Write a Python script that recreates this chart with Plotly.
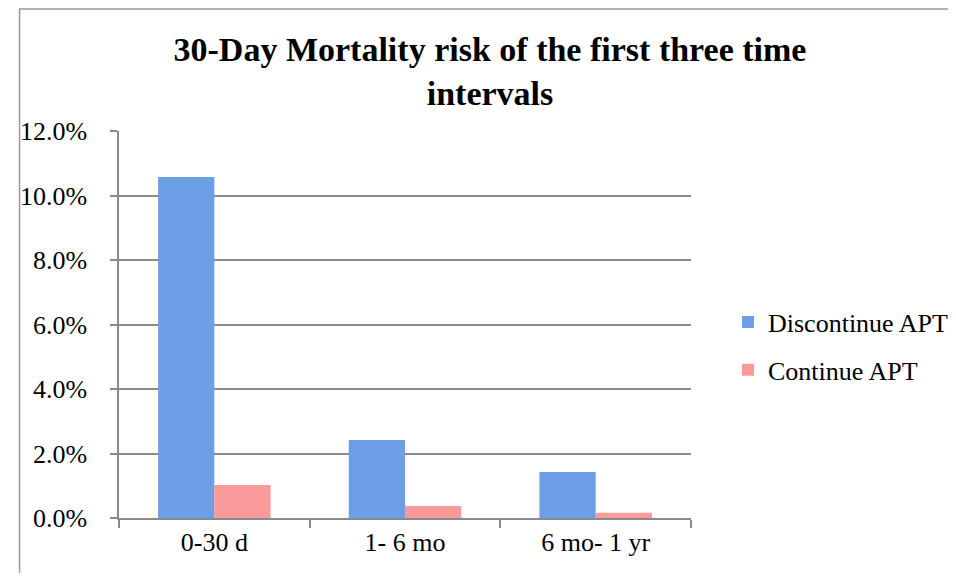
import plotly.graph_objects as go

categories = ["0-30 d", "1- 6 mo", "6 mo- 1 yr"]
discontinue = [0.1057, 0.0242, 0.0143]
continue_apt = [0.0102, 0.0037, 0.0016]
tick_vals = [0, 0.02, 0.04, 0.06, 0.08, 0.10, 0.12]
tick_text = ["0.0%", "2.0%", "4.0%", "6.0%", "8.0%", "10.0%", "12.0%"]

FONT = "Liberation Serif"
W, H = 940, 565

fig = go.Figure()
fig.add_trace(go.Bar(x=categories, y=discontinue, name="Discontinue APT",
                     legendgroup="a",
                     marker=dict(color="#6C9FE6", line=dict(width=0))))
fig.add_trace(go.Bar(x=categories, y=continue_apt, name="Continue APT",
                     legendgroup="b",
                     marker=dict(color="#FA9A9A", line=dict(width=0))))

fig.update_layout(
    width=W, height=H,
    margin=dict(l=102, r=257, t=123, b=55),
    paper_bgcolor="white", plot_bgcolor="white",
    barmode="group", bargap=0.41, bargroupgap=0,
    font=dict(family=FONT, size=26, color="black"),
    title=dict(text="<b>30-Day Mortality risk of the first three time<br>intervals</b>",
               x=482 / W, xanchor="center", xref="container",
               y=1 - 53 / H, yanchor="top", yref="container",
               font=dict(family=FONT, size=34, color="black")),
    legend=dict(x=720 / W, y=1 - 338 / H, xanchor="left", yanchor="middle",
                xref="container", yref="container",
                font=dict(family=FONT, size=26), tracegroupgap=11,
                itemwidth=30, bgcolor="rgba(0,0,0,0)"),
    showlegend=True,
)
fig.update_xaxes(showline=True, linecolor="#8a8a8a", linewidth=1.5,
                 ticks="outside", tickson="boundaries", ticklen=8,
                 tickcolor="#8a8a8a", tickwidth=1.5, showgrid=False,
                 tickfont=dict(family=FONT, size=26))
fig.update_yaxes(range=[0, 0.12], tickvals=tick_vals, ticktext=tick_text,
                 showline=True, linecolor="#8a8a8a", linewidth=1.5,
                 ticks="outside", ticklen=7, tickcolor="#8a8a8a", tickwidth=1.5,
                 showgrid=True, gridcolor="#8a8a8a", gridwidth=1.5,
                 zeroline=False, ticklabelstandoff=18,
                 tickfont=dict(family=FONT, size=26))

# outer chart frame
fig.add_shape(type="rect", xref="paper", yref="paper",
              x0=(1 - 102) / 581, x1=(965 - 102) / 581,
              y0=(510 - 600) / 387, y1=(510 - 1) / 387,
              line=dict(color="#9a9a9a", width=1.5), fillcolor="rgba(0,0,0,0)",
              layer="below")

fig.write_html("out.html")
